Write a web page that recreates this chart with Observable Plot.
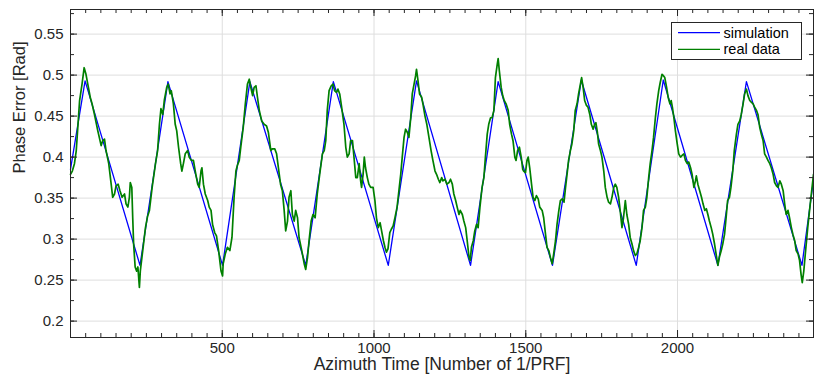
<!DOCTYPE html>
<html><head><meta charset="utf-8">
<script src="https://cdn.jsdelivr.net/npm/d3@7"></script>
<script src="https://cdn.jsdelivr.net/npm/@observablehq/plot@0.6"></script>
<style>body{margin:0;background:#fff}#chart{width:814px;height:381px}</style>
</head><body><div id="chart"></div>
<script>
const xTickValues = [500, 1000, 1500, 2000];
const yTickValues = [0.2, 0.25, 0.3, 0.35, 0.4, 0.45, 0.5, 0.55];
const xDomain = [0, 2448];
const yDomain = [0.18, 0.58];
const xTitle = "Azimuth Time [Number of 1/PRF]";
const yTitle = "Phase Error [Rad]";
const seriesNames = ["simulation", "real data"];

// simulation: triangle-wave vertices [x, y]
const simulation = [[0,0.385],[48,0.493],[229,0.268],[321,0.492],[501,0.268],[591,0.492],[775,0.268],[866,0.492],[1047,0.268],[1140,0.493],[1318,0.268],[1409,0.492],[1588,0.268],[1683,0.494],[1864,0.268],[1953,0.494],[2133,0.268],[2227,0.492],[2410,0.268],[2448,0.372]];

// real data, read in segments [x, y]
const real1 = [[0,0.379],[6,0.383],[13,0.392],[19,0.408],[30,0.469],[38,0.489],[45,0.509],[51,0.501],[57,0.489],[65,0.473],[71,0.465],[79,0.452],[90,0.432],[101,0.414],[106,0.420],[112,0.422],[117,0.408],[126,0.392],[134,0.367],[139,0.351],[145,0.355],[150,0.365],[157,0.367],[163,0.359],[170,0.351],[178,0.355],[183,0.343],[189,0.339],[194,0.351],[197,0.369],[202,0.363],[205,0.326],[208,0.294],[213,0.266],[218,0.261],[222,0.266],[227,0.241],[230,0.261],[238,0.286],[247,0.314],[254,0.328],[260,0.335],[269,0.363],[280,0.392],[287,0.408],[293,0.440],[298,0.459],[304,0.452],[309,0.469],[317,0.485],[322,0.489],[328,0.477],[332,0.481],[339,0.465],[345,0.440],[350,0.432],[356,0.412],[363,0.392],[367,0.383],[372,0.392],[378,0.404],[386,0.408],[391,0.400],[398,0.396],[405,0.396],[411,0.383],[419,0.367],[424,0.363],[430,0.383],[433,0.387],[438,0.367],[444,0.355],[452,0.347],[457,0.339],[463,0.335],[468,0.318],[475,0.308],[481,0.304],[488,0.286],[496,0.261],[501,0.255]];
const real2 = [[503,0.270],[510,0.282],[517,0.290],[525,0.286],[532,0.302],[539,0.351],[545,0.383],[550,0.390],[556,0.396],[561,0.412],[569,0.436],[576,0.465],[583,0.489],[589,0.495],[594,0.485],[600,0.475],[605,0.485],[611,0.487],[616,0.473],[622,0.457],[630,0.444],[638,0.440],[646,0.438],[652,0.430],[660,0.408],[665,0.410],[673,0.410],[679,0.404],[685,0.387],[692,0.367],[698,0.359],[704,0.335],[709,0.310],[715,0.322],[720,0.351],[726,0.359],[731,0.330],[737,0.322],[742,0.335],[748,0.326],[753,0.302],[762,0.286],[770,0.270],[775,0.263],[781,0.278],[786,0.298],[793,0.322],[799,0.330],[806,0.326],[813,0.355],[821,0.379],[830,0.404],[836,0.408],[841,0.420],[846,0.457],[852,0.481],[859,0.487],[865,0.489],[870,0.481],[876,0.479],[881,0.483],[887,0.477],[894,0.459],[901,0.440],[907,0.412],[912,0.400],[918,0.404],[923,0.420],[929,0.420],[934,0.400],[940,0.375],[945,0.375],[951,0.392],[956,0.371],[959,0.363],[964,0.379],[968,0.400],[972,0.387],[978,0.375],[983,0.367],[989,0.363],[997,0.363]];
const real3 = [[1003,0.347],[1008,0.326],[1014,0.314],[1020,0.320],[1025,0.310],[1031,0.298],[1036,0.290],[1041,0.284],[1046,0.288],[1052,0.308],[1057,0.312],[1063,0.316],[1069,0.326],[1076,0.339],[1082,0.359],[1088,0.379],[1093,0.400],[1099,0.424],[1104,0.434],[1110,0.430],[1115,0.424],[1121,0.448],[1126,0.477],[1132,0.489],[1137,0.499],[1140,0.507],[1145,0.493],[1150,0.477],[1157,0.473],[1162,0.463],[1168,0.450],[1174,0.440],[1181,0.424],[1188,0.408],[1194,0.396],[1201,0.383],[1206,0.379],[1212,0.373],[1217,0.369],[1223,0.375],[1227,0.371],[1234,0.373],[1240,0.367],[1247,0.369],[1252,0.373],[1258,0.367],[1263,0.355],[1269,0.347],[1274,0.339],[1280,0.330],[1284,0.335],[1291,0.330],[1296,0.322],[1302,0.314],[1307,0.298],[1313,0.278],[1317,0.274],[1321,0.290],[1327,0.298],[1332,0.310],[1338,0.318],[1343,0.314],[1349,0.339],[1356,0.363],[1362,0.375],[1367,0.400],[1373,0.428],[1378,0.440],[1384,0.448],[1389,0.448],[1395,0.457],[1400,0.497],[1406,0.513],[1409,0.520],[1413,0.505],[1419,0.485],[1424,0.475],[1429,0.469],[1435,0.465],[1442,0.457],[1447,0.440],[1453,0.428],[1458,0.420],[1464,0.400],[1468,0.396],[1473,0.408],[1479,0.412],[1485,0.400],[1490,0.385]];
const real4 = [[1493,0.383],[1499,0.381],[1504,0.396],[1508,0.400],[1513,0.387],[1519,0.367],[1524,0.351],[1530,0.347],[1535,0.353],[1541,0.349],[1546,0.339],[1554,0.335],[1559,0.326],[1565,0.306],[1570,0.290],[1576,0.286],[1581,0.278],[1587,0.270],[1592,0.282],[1598,0.298],[1603,0.318],[1609,0.335],[1614,0.347],[1620,0.349],[1626,0.345],[1631,0.363],[1636,0.379],[1641,0.396],[1647,0.408],[1652,0.416],[1658,0.432],[1663,0.457],[1669,0.465],[1674,0.477],[1680,0.489],[1684,0.497],[1689,0.485],[1694,0.469],[1700,0.463],[1705,0.461],[1711,0.452],[1716,0.440],[1722,0.434],[1727,0.440],[1731,0.442],[1736,0.430],[1740,0.416],[1746,0.408],[1751,0.400],[1757,0.383],[1762,0.363],[1768,0.351],[1773,0.345],[1779,0.343],[1784,0.351],[1790,0.363],[1795,0.367],[1800,0.363],[1806,0.351],[1811,0.335],[1817,0.314],[1822,0.326],[1828,0.347],[1833,0.330],[1839,0.318],[1844,0.302],[1850,0.294],[1855,0.286],[1861,0.280],[1866,0.282],[1872,0.290],[1877,0.298],[1883,0.314],[1888,0.335],[1894,0.339],[1899,0.351],[1905,0.375],[1910,0.392],[1916,0.408],[1921,0.424],[1927,0.448],[1932,0.465],[1938,0.481],[1943,0.491],[1949,0.501],[1954,0.499]];
const real5 = [[1958,0.497],[1964,0.485],[1969,0.473],[1975,0.465],[1979,0.469],[1983,0.461],[1988,0.448],[1993,0.432],[1999,0.416],[2004,0.404],[2010,0.400],[2015,0.402],[2021,0.404],[2026,0.396],[2032,0.392],[2037,0.394],[2043,0.387],[2048,0.379],[2054,0.363],[2059,0.371],[2062,0.377],[2067,0.367],[2073,0.359],[2079,0.351],[2084,0.343],[2090,0.335],[2095,0.337],[2100,0.330],[2105,0.322],[2111,0.314],[2116,0.306],[2122,0.294],[2127,0.282],[2133,0.268],[2138,0.278],[2144,0.286],[2149,0.294],[2155,0.306],[2160,0.326],[2165,0.347],[2171,0.351],[2176,0.363],[2182,0.383],[2187,0.408],[2194,0.428],[2199,0.440],[2205,0.444],[2210,0.452],[2216,0.465],[2221,0.477],[2227,0.483],[2232,0.475],[2238,0.469],[2243,0.467],[2249,0.465],[2254,0.461],[2260,0.457],[2265,0.452],[2271,0.436],[2276,0.428],[2282,0.420],[2287,0.404],[2293,0.400],[2298,0.396],[2304,0.392],[2309,0.387],[2315,0.379],[2320,0.369],[2326,0.365],[2331,0.363],[2337,0.371],[2342,0.367],[2348,0.359],[2353,0.343],[2358,0.330],[2364,0.335],[2369,0.326],[2375,0.314],[2380,0.306],[2386,0.298],[2391,0.286],[2397,0.282],[2402,0.274],[2407,0.257],[2411,0.247],[2416,0.261],[2422,0.286],[2429,0.314],[2435,0.335],[2442,0.359],[2448,0.379]];

const realData = [].concat(real1, real2, real3, real4, real5);

const W = 814, H = 381, mL = 70, mR = 1, mT = 9, mB = 44;
const plotH = H - mT - mB, plotW = W - mL - mR;
const xMinor = d3.range(50, xDomain[1], 50);
const yMinor = d3.range(0, 16).map(i => +(0.2 + i * 0.025).toFixed(3));
const axisColor = "#262626";
const gridColor = "#dedede";
const fontStack = "'Liberation Sans', Arial, Helvetica, sans-serif";

const plot = Plot.plot({
  width: W, height: H,
  marginLeft: mL, marginRight: mR, marginTop: mT, marginBottom: mB,
  style: {fontFamily: fontStack, fontSize: "15px", color: axisColor, background: "#fff", overflow: "visible"},
  x: {domain: xDomain},
  y: {domain: yDomain},
  marks: [
    Plot.gridX(xTickValues, {stroke: gridColor, strokeOpacity: 1}),
    Plot.gridY(yTickValues, {stroke: gridColor, strokeOpacity: 1}),
    Plot.line(simulation, {x: d => d[0], y: d => d[1], stroke: "#0000ff", strokeWidth: 1.3}),
    Plot.line(realData, {x: d => d[0], y: d => d[1], stroke: "#008000", strokeWidth: 1.7}),
    Plot.tickX(xMinor, {x: d => d, insetTop: plotH - 4, stroke: axisColor}),
    Plot.tickX(xMinor, {x: d => d, insetBottom: plotH - 4, stroke: axisColor}),
    Plot.tickX(xTickValues, {x: d => d, insetTop: plotH - 7, stroke: axisColor}),
    Plot.tickX(xTickValues, {x: d => d, insetBottom: plotH - 7, stroke: axisColor}),
    Plot.tickY(yMinor, {y: d => d, insetRight: plotW - 4, stroke: axisColor}),
    Plot.tickY(yMinor, {y: d => d, insetLeft: plotW - 4, stroke: axisColor}),
    Plot.tickY(yTickValues, {y: d => d, insetRight: plotW - 7, stroke: axisColor}),
    Plot.tickY(yTickValues, {y: d => d, insetLeft: plotW - 7, stroke: axisColor}),
    Plot.frame({stroke: axisColor}),
    Plot.axisX(xTickValues, {tickSize: 0, tickPadding: 5, label: null, tickFormat: d => String(d)}),
    Plot.axisY(yTickValues, {tickSize: 0, tickPadding: 7, label: null, tickFormat: d => String(d)}),
    Plot.text([xTitle], {frameAnchor: "bottom", dy: 32, fontSize: 17.5, text: d => d}),
    Plot.text([yTitle], {frameAnchor: "left", dx: -51, rotate: -90, fontSize: 16.5, text: d => d})
  ]
});

// legend box (MATLAB style, upper right)
const svg = d3.select(plot);
const lg = svg.append("g").attr("font-family", fontStack).attr("font-size", 14.5).attr("text-anchor", "start");
lg.append("rect").attr("x", 671.5).attr("y", 22.5).attr("width", 130).attr("height", 37)
  .attr("fill", "#fff").attr("stroke", axisColor).attr("stroke-width", 1);
const legendColors = ["#0000ff", "#008000"];
seriesNames.forEach((name, i) => {
  const cy = 32.7 + i * 16.6;
  lg.append("line").attr("x1", 678).attr("x2", 720).attr("y1", cy).attr("y2", cy)
    .attr("stroke", legendColors[i]).attr("stroke-width", 1.2);
  lg.append("text").attr("x", 723.5).attr("y", cy).attr("dy", "0.35em")
    .attr("text-anchor", "start").attr("fill", "#000").text(name);
});

document.getElementById("chart").appendChild(plot);
</script>
</body></html>
